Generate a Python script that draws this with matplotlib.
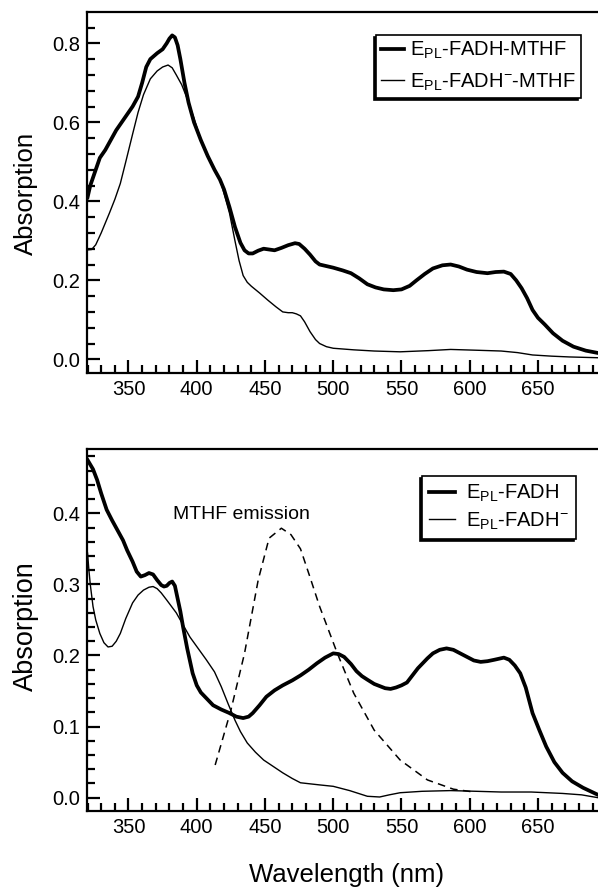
"""
Absorption spectra of the photolyase E_PL complexes, with and without MTHF,
plus the MTHF emission band (dashed) in the lower panel.
"""
import matplotlib
matplotlib.use("Agg")
import matplotlib.pyplot as plt
from matplotlib.ticker import MultipleLocator

plt.rcParams["font.family"] = "Liberation Sans"
plt.rcParams["mathtext.fontset"] = "custom"
plt.rcParams["mathtext.rm"] = "Liberation Sans"
plt.rcParams["mathtext.it"] = "Liberation Sans:italic"

# upper panel: E_PL-FADH-MTHF (thick) and E_PL-FADH(-)-MTHF (thin)
wl_mthf = [320, 322, 325, 329, 333, 337, 341, 347, 353, 357, 360, 363, 366,
           371, 375, 378, 380, 382, 384, 386, 388, 391, 394, 398, 403, 408,
           413, 417, 420, 424, 428, 432, 435, 438, 441, 445, 449, 453, 457,
           462, 467, 472, 475, 479, 483, 487, 490, 495, 500, 507, 513, 519,
           525, 531, 537, 544, 550, 556, 561, 567, 573, 580, 586, 592, 598,
           605, 613, 619, 625, 630, 634, 638, 642, 646, 650, 655, 661, 668,
           676, 685, 694]
abs_mthf = [0.41, 0.44, 0.47, 0.51, 0.53, 0.555, 0.58, 0.61, 0.64, 0.665,
            0.70, 0.74, 0.76, 0.775, 0.785, 0.80, 0.812, 0.82, 0.815, 0.795,
            0.76, 0.70, 0.65, 0.60, 0.555, 0.515, 0.48, 0.455, 0.43, 0.385,
            0.335, 0.295, 0.276, 0.268, 0.268, 0.275, 0.28, 0.278, 0.276,
            0.282, 0.289, 0.294, 0.292, 0.28, 0.265, 0.248, 0.24, 0.236,
            0.232, 0.225, 0.218, 0.205, 0.19, 0.182, 0.177, 0.175, 0.177,
            0.186, 0.20, 0.216, 0.23, 0.238, 0.24, 0.235, 0.227, 0.221,
            0.218, 0.221, 0.222, 0.216, 0.20, 0.18, 0.155, 0.125, 0.105,
            0.088, 0.066, 0.047, 0.032, 0.022, 0.016]

wl_red_mthf = [320, 323, 326, 330, 333, 336, 340, 344, 348, 353, 357, 361,
               366, 371, 375, 379, 382, 385, 389, 393, 398, 403, 408, 413,
               417, 420, 424, 428, 431, 434, 437, 440, 446, 452, 458, 463,
               467, 470, 473, 476, 479, 483, 487, 490, 495, 500, 515, 530,
               549, 570, 586, 605, 623, 635, 646, 660, 673, 694]
abs_red_mthf = [0.277, 0.278, 0.29, 0.32, 0.345, 0.37, 0.405, 0.445, 0.50,
                0.57, 0.625, 0.67, 0.71, 0.73, 0.74, 0.745, 0.738, 0.72,
                0.695, 0.66, 0.61, 0.555, 0.515, 0.48, 0.455, 0.42, 0.37,
                0.30, 0.25, 0.212, 0.195, 0.185, 0.168, 0.15, 0.133, 0.12,
                0.118, 0.118, 0.115, 0.11, 0.095, 0.07, 0.05, 0.04, 0.032,
                0.028, 0.024, 0.021, 0.019, 0.022, 0.025, 0.023, 0.021,
                0.017, 0.011, 0.008, 0.006, 0.004]

# lower panel: E_PL-FADH (thick), E_PL-FADH(-) (thin), MTHF emission (dashed)
wl_fadh = [320, 324, 327, 330, 334, 338, 342, 346, 349, 353, 356, 359, 362,
           365, 368, 371, 374, 376, 378, 380, 382, 384, 386, 388, 390, 393,
           397, 400, 403, 407, 412, 418, 424, 429, 434, 438, 441, 446, 451,
           457, 463, 470, 476, 482, 488, 494, 500, 504, 508, 513, 517, 521,
           525, 530, 534, 538, 542, 546, 550, 554, 558, 562, 566, 569, 573,
           578, 583, 588, 593, 598, 603, 608, 613, 618, 625, 629, 633, 637,
           641, 646, 651, 656, 662, 668, 675, 683, 694]
abs_fadh = [0.475, 0.462, 0.447, 0.428, 0.405, 0.39, 0.376, 0.362, 0.348,
            0.332, 0.318, 0.311, 0.313, 0.316, 0.314, 0.306, 0.299, 0.297,
            0.298, 0.302, 0.304, 0.298, 0.28, 0.262, 0.24, 0.21, 0.175,
            0.158, 0.148, 0.14, 0.13, 0.124, 0.119, 0.114, 0.112, 0.114,
            0.119, 0.13, 0.142, 0.151, 0.158, 0.165, 0.172, 0.18, 0.189,
            0.197, 0.203, 0.202, 0.198, 0.188, 0.178, 0.171, 0.166, 0.16,
            0.157, 0.154, 0.153, 0.155, 0.158, 0.162, 0.172, 0.182, 0.19,
            0.196, 0.203, 0.208, 0.21, 0.208, 0.203, 0.198, 0.193, 0.191,
            0.192, 0.194, 0.197, 0.194, 0.186, 0.175, 0.155, 0.119, 0.095,
            0.072, 0.05, 0.035, 0.023, 0.014, 0.004]

wl_fadh_red = [320, 321, 322, 324, 326, 329, 332, 335, 338, 341, 344, 348,
               353, 357, 361, 365, 368, 371, 374, 378, 385, 390, 395, 401,
               407, 413, 418, 423, 428, 432, 437, 443, 449, 456, 463, 470,
               476, 490, 500, 512, 525, 534, 541, 549, 565, 586, 605, 623,
               645, 668, 682, 694]
abs_fadh_red = [0.344, 0.32, 0.30, 0.269, 0.25, 0.231, 0.218, 0.212, 0.213,
                0.22, 0.231, 0.252, 0.274, 0.285, 0.292, 0.296, 0.297,
                0.294, 0.288, 0.278, 0.26, 0.243, 0.226, 0.21, 0.194, 0.177,
                0.156, 0.132, 0.109, 0.093, 0.077, 0.064, 0.053, 0.044,
                0.035, 0.027, 0.021, 0.018, 0.016, 0.01, 0.002, 0.001,
                0.004, 0.007, 0.009, 0.010, 0.009, 0.008, 0.008, 0.006,
                0.004, 0.0]

wl_emission = [413.5, 425, 435, 445, 453, 462, 469, 476, 483, 490, 503, 515,
               530, 549, 569, 588, 603]
emission = [0.046, 0.123, 0.203, 0.306, 0.365, 0.379, 0.37, 0.35, 0.31,
            0.269, 0.203, 0.147, 0.095, 0.053, 0.025, 0.012, 0.008]

labels_top = [r"E$_{\mathregular{PL}}$-FADH-MTHF",
              r"E$_{\mathregular{PL}}$-FADH$^{\mathregular{-}}$-MTHF"]
labels_bottom = [r"E$_{\mathregular{PL}}$-FADH",
                 r"E$_{\mathregular{PL}}$-FADH$^{\mathregular{-}}$"]

W, H = 598, 888
THICK, THIN = 2.7, 1.0
X_LIM = (319.6, 699)
AX_W = 87 + (X_LIM[1] - X_LIM[0]) * 1.365


def style_axes(ax, ymajor, yminor):
    for side in ("left", "bottom", "top", "right"):
        ax.spines[side].set_linewidth(1.6)
    ax.xaxis.set_major_locator(MultipleLocator(50))
    ax.xaxis.set_minor_locator(MultipleLocator(10))
    ax.yaxis.set_major_locator(MultipleLocator(ymajor))
    ax.yaxis.set_minor_locator(MultipleLocator(yminor))
    ax.yaxis.set_major_formatter(plt.FormatStrFormatter("%.1f"))
    ax.tick_params(which="both", direction="in", width=1.6, labelsize=14.5,
                   top=False, right=False, pad=5)
    ax.tick_params(which="major", length=9.5)
    ax.tick_params(which="minor", length=5.5)


def add_legend(ax, anchor, handlelength, handletextpad, borderpad,
               labelspacing):
    leg = ax.legend(loc="upper right", bbox_to_anchor=anchor,
                    bbox_transform=ax.figure.transFigure, borderaxespad=0,
                    fontsize=14.5, frameon=True, fancybox=False,
                    framealpha=1, edgecolor="black",
                    handlelength=handlelength, handletextpad=handletextpad,
                    borderpad=borderpad, labelspacing=labelspacing,
                    shadow={"ox": -1.6, "oy": -1.6, "color": "black",
                            "alpha": 1})
    leg.get_frame().set_linewidth(1.2)
    return leg


fig = plt.figure(figsize=(W / 100, H / 100), dpi=100)

# axes run past the right edge of the figure, so no right spine is drawn
ax1 = fig.add_axes([87 / W, 1 - 373.3 / H, (AX_W - 87) / W, 361 / H])
ax1.plot(wl_mthf, abs_mthf, color="black", lw=THICK, label=labels_top[0])
ax1.plot(wl_red_mthf, abs_red_mthf, color="black", lw=THIN,
         label=labels_top[1])
ax1.set_xlim(*X_LIM)
ax1.set_ylim(-0.0354, 0.8785)
style_axes(ax1, 0.2, 0.04)
add_legend(ax1, (580.7 / W, 1 - 35 / H), 1.15, 0.3, 0.25, 0.5)

ax2 = fig.add_axes([87 / W, 1 - 811 / H, (AX_W - 87) / W, 361.7 / H])
ax2.plot(wl_fadh, abs_fadh, color="black", lw=THICK, label=labels_bottom[0])
ax2.plot(wl_fadh_red, abs_fadh_red, color="black", lw=THIN,
         label=labels_bottom[1])
ax2.plot(wl_emission, emission, color="black", lw=1.1, ls=(0, (5, 3.5)))
ax2.set_xlim(*X_LIM)
ax2.set_ylim(-0.0187, 0.49)
style_axes(ax2, 0.1, 0.02)
ax2.text(382.4, 0.3916, "MTHF emission", fontsize=14, ha="left",
         va="baseline")
add_legend(ax2, (576 / W, 1 - 476 / H), 1.3, 0.55, 0.35, 0.3)

fig.text(26.4 / W, 1 - 193 / H, "Absorption", rotation=90, fontsize=18.5,
         ha="center", va="center")
fig.text(26.4 / W, 1 - 626 / H, "Absorption", rotation=90, fontsize=19.5,
         ha="center", va="center")
fig.text(346.5 / W, 1 - 875 / H, "Wavelength (nm)", fontsize=18.5,
         ha="center", va="center")

fig.savefig("out.png", dpi=100)
plt.close(fig)
